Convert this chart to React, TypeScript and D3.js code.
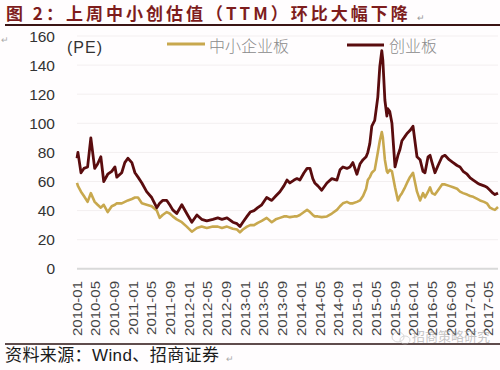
import React from 'react';
import * as d3 from 'd3';

// weekly-ish samples
const dates = [
  '2010-01-01', '2010-01-07', '2010-01-27', '2010-02-15', '2010-03-11', '2010-04-01', '2010-04-26', '2010-05-15',
  '2010-06-05', '2010-06-24', '2010-07-20', '2010-08-15', '2010-09-05', '2010-09-17', '2010-10-19', '2010-11-08',
  '2010-11-28', '2010-12-24', '2011-01-13', '2011-02-02', '2011-02-27', '2011-03-30', '2011-05-02', '2011-06-04',
  '2011-06-23', '2011-07-12', '2011-08-08', '2011-08-27', '2011-09-16', '2011-10-12', '2011-11-14', '2011-12-16',
  '2012-01-18', '2012-02-20', '2012-03-22', '2012-04-24', '2012-06-03', '2012-07-05', '2012-08-01', '2012-09-03',
  '2012-10-11', '2012-11-07', '2012-11-26', '2012-12-15', '2013-01-11', '2013-02-01', '2013-02-26', '2013-03-22',
  '2013-04-17', '2013-05-19', '2013-06-21', '2013-07-17', '2013-08-13', '2013-09-08', '2013-09-28', '2013-10-17',
  '2013-11-13', '2013-12-02', '2013-12-21', '2014-01-17', '2014-02-06', '2014-02-25', '2014-03-15', '2014-03-28',
  '2014-04-17', '2014-05-12', '2014-06-15', '2014-07-17', '2014-08-19', '2014-09-08', '2014-09-27', '2014-10-23',
  '2014-11-12', '2014-12-01', '2014-12-27', '2015-01-16', '2015-02-05', '2015-02-25', '2015-03-08', '2015-03-21',
  '2015-04-03', '2015-04-22', '2015-05-12', '2015-05-25', '2015-06-07', '2015-06-14', '2015-06-27', '2015-07-10',
  '2015-07-16', '2015-07-29', '2015-08-12', '2015-09-01', '2015-09-20', '2015-10-03', '2015-10-16', '2015-11-05',
  '2015-11-18', '2015-12-07', '2015-12-27', '2016-01-22', '2016-02-11', '2016-03-01', '2016-03-14', '2016-04-03',
  '2016-04-16', '2016-04-29', '2016-05-18', '2016-06-07', '2016-07-03', '2016-07-22', '2016-08-18', '2016-09-13',
  '2016-10-09', '2016-10-28', '2016-11-17', '2016-12-13', '2017-01-02', '2017-01-22', '2017-02-17', '2017-03-07',
  '2017-04-02', '2017-04-21', '2017-05-11', '2017-05-30', '2017-06-12', '2017-07-02',
];

// 中小企业板
const smeValues = [
  59, 57, 53, 50, 46, 52, 46, 44, 42, 44, 39, 43, 44, 45, 45, 46,
  47, 48, 49, 49, 45, 44, 43, 40, 35, 37, 39, 38, 36, 34, 32, 29,
  25.5, 28, 29, 28, 29, 29, 28, 29, 27.5, 27, 25, 27, 29, 30, 30, 31.6,
  33, 35, 32, 34, 35, 36, 36, 35.5, 36, 36, 37, 39, 40.5, 39, 37, 36,
  36, 35.5, 36, 38, 40.5, 43, 45, 46, 45, 45, 46, 47, 50, 55, 61, 63,
  66, 68, 80, 88, 94, 90, 75, 67, 66, 68, 67, 56, 47, 50, 52, 56,
  59, 63, 66, 53, 47, 52, 49, 53, 56, 52, 51, 54, 58, 58, 57, 56,
  55, 53, 52, 51, 50, 49.5, 48, 47, 46, 45, 42, 41, 40.5, 42.5,
];

// 创业板
const gemValues = [
  76, 80, 66, 69, 70, 90, 69, 72, 77, 60, 65, 67, 70, 63, 66, 73,
  76, 73, 66, 63, 59, 53, 49, 42, 45, 47, 47, 44, 40.5, 38, 44, 38,
  32, 37, 34, 33, 34, 35, 34, 35, 32, 31, 29, 32, 36, 39, 40, 42,
  44, 49, 47, 50, 53, 57, 61, 59, 61, 62, 61, 66, 69, 69, 62, 59,
  57, 54, 59, 62, 61, 68, 70, 69, 70, 73, 65, 72, 75, 77, 80, 86,
  98, 102, 118, 139, 150, 143, 116, 105, 110, 108, 100, 70, 78, 82, 88, 91,
  93, 95, 98, 77, 75, 67, 66, 77, 78, 73, 66, 71, 77, 78, 75, 73,
  71, 70, 67, 65, 62.5, 61, 59, 58, 57, 56, 54, 52, 51, 52,
];

const yTicks = [0, 20, 40, 60, 80, 100, 120, 140, 160];
const xTickLabels = [
  '2010-01', '2010-05', '2010-09', '2011-01', '2011-05', '2011-09', '2012-01', '2012-05',
  '2012-09', '2013-01', '2013-05', '2013-09', '2014-01', '2014-05', '2014-09', '2015-01',
  '2015-05', '2015-09', '2016-01', '2016-05', '2016-09', '2017-01', '2017-05',
];

const seriesNames = ['中小企业板', '创业板'];
const colors = ['#c8a84e', '#5a0c0e'];

const latin = '"Liberation Sans", Arial, sans-serif';
const cjk = '"Noto Sans CJK SC", "Noto Sans", sans-serif';

export default function App() {
  const width = 500;
  const height = 370;
  const parse = d3.timeParse('%Y-%m-%d');
  const parsedDates = dates.map((d) => parse(d) as Date);

  const x = d3
    .scaleTime()
    .domain([parse('2010-01-01') as Date, parse('2017-07-02') as Date])
    .range([77, 498]);
  const y = d3.scaleLinear().domain([0, 160]).range([268.8, 36]);

  const line = d3
    .line<number>()
    .x((_, i) => x(parsedDates[i]))
    .y((v) => y(v));

  const tickParse = d3.timeParse('%Y-%m');

  return (
    <svg
      width={width}
      height={height}
      style={{ position: 'fixed', left: 0, top: 0, background: '#fffdfe' }}
    >
      {/* title */}
      <text
        x={6}
        y={20}
        fontFamily={cjk}
        fontWeight="bold"
        fontSize={17}
        letterSpacing={3}
        fill="#7e1d1d"
      >
        图 2：上周中小创估值（TTM）环比大幅下降
      </text>
      <text x={417} y={21} fontFamily={cjk} fontSize={9} fill="#999">↵</text>
      <line x1={5} x2={500} y1={25} y2={25} stroke="#3a1414" strokeWidth={2} />
      <text x={1} y={43} fontFamily={cjk} fontSize={9} fill="#aaa">↵</text>

      {/* grid */}
      {yTicks.map((t) => (
        <line
          key={'g' + t}
          x1={77}
          x2={498}
          y1={y(t)}
          y2={y(t)}
          stroke={t === 0 ? '#d9d9d9' : '#f3eff0'}
          strokeWidth={t === 0 ? 2 : 1}
        />
      ))}

      {/* y labels */}
      {yTicks.map((t) => (
        <text
          key={'y' + t}
          x={55}
          y={y(t)}
          textAnchor="end"
          dominantBaseline="central"
          fontFamily={latin}
          fontSize={15.5}
          fill="#333"
        >
          {t}
        </text>
      ))}

      <text x={67} y={53} fontFamily={latin} fontSize={16} letterSpacing={1} fill="#333">
        (PE)
      </text>

      {/* x labels */}
      {xTickLabels.map((lab) => {
        const px = x(tickParse(lab) as Date);
        return (
          <text
            key={lab}
            transform={`translate(${px},281) rotate(-90) scale(1,0.85)`}
            textAnchor="end"
            dominantBaseline="central"
            fontFamily={latin}
            fontSize={15}
            fill="#444"
          >
            {lab}
          </text>
        );
      })}

      {/* series */}
      <path d={line(smeValues) || ''} fill="none" stroke={colors[0]} strokeWidth={2.6} strokeLinejoin="round" />
      <path d={line(gemValues) || ''} fill="none" stroke={colors[1]} strokeWidth={2.8} strokeLinejoin="round" />

      {/* legend */}
      <line x1={167} x2={205} y1={44} y2={44} stroke={colors[0]} strokeWidth={3} />
      <text x={209} y={45} dominantBaseline="central" fontFamily={cjk} fontWeight={300} fontSize={16} fill="#8a8a8a">
        {seriesNames[0]}
      </text>
      <line x1={347} x2={384} y1={45} y2={45} stroke={colors[1]} strokeWidth={3} />
      <text x={389} y={45} dominantBaseline="central" fontFamily={cjk} fontWeight={300} fontSize={16} fill="#8a8a8a">
        {seriesNames[1]}
      </text>

      {/* footer */}
      <line x1={5} x2={500} y1={344} y2={344} stroke="#2a1010" strokeWidth={1.5} />
      <text x={5} y={361} fontFamily={cjk} fontSize={17} letterSpacing={0.4} fill="#1a1a1a">
        资料来源：<tspan fontFamily={latin}>Wind</tspan>、招商证券
      </text>
      <text x={226} y={362} fontFamily={cjk} fontSize={9} fill="#aaa">↵</text>

      {/* watermark */}
      <g opacity={0.55}>
        <ellipse cx={398} cy={337} rx={6} ry={5} fill="none" stroke="#bbb" strokeWidth={1} />
        <ellipse cx={405} cy={340} rx={5} ry={4} fill="none" stroke="#bbb" strokeWidth={1} />
        <text x={412} y={341} fontFamily={cjk} fontSize={13} fill="#999">招商策略研究</text>
      </g>
    </svg>
  );
}
